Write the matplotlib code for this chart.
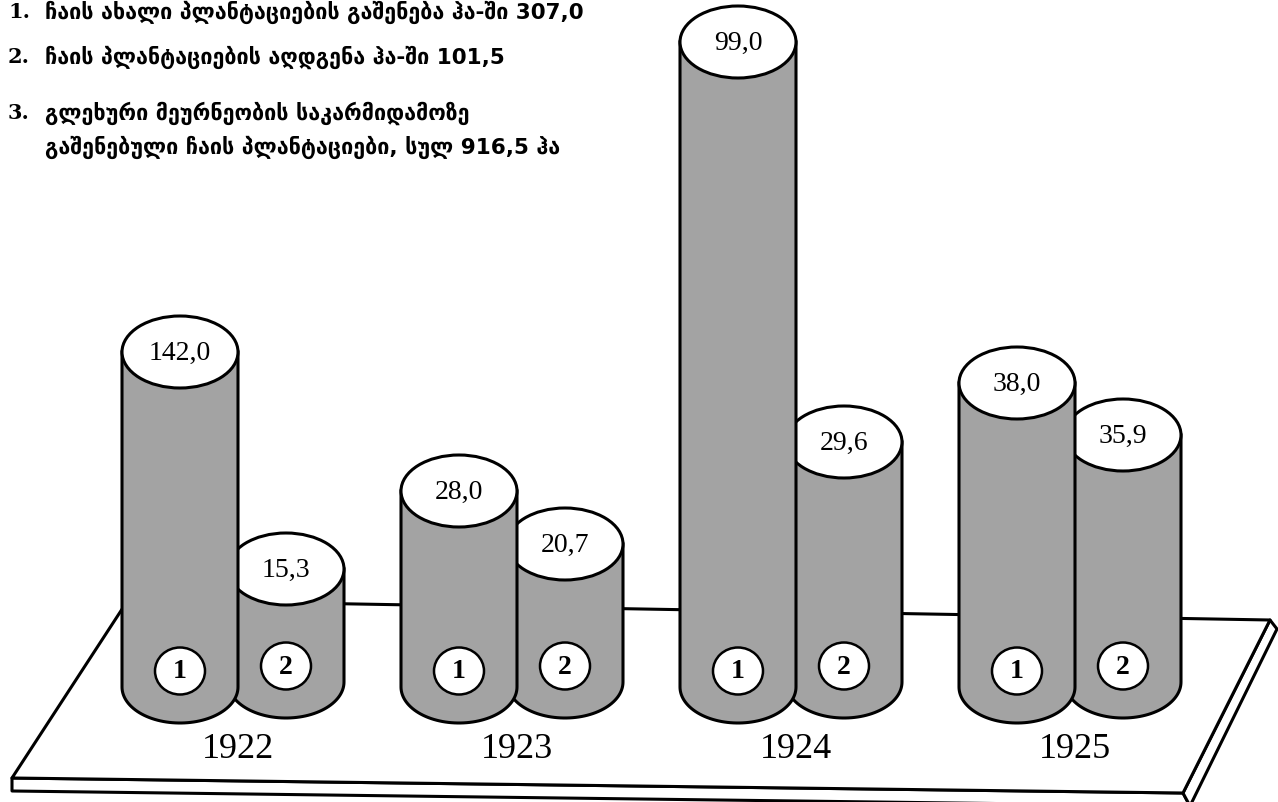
import numpy as np
import matplotlib.pyplot as plt
from matplotlib.patches import Ellipse, Polygon

# tea plantations by year (ha)
years = ['1922', '1923', '1924', '1925']
new_plant = [142.0, 28.0, 99.0, 38.0]      # series 1
restored = [15.3, 20.7, 29.6, 35.9]         # series 2
# column heights as drawn in the original picture (not to scale with the values)
new_drawn = [335, 196, 645, 304]
restored_drawn = [113, 138, 240, 247]

legend_nums = ['1.', '2.', '3.']
legend_lines = [
    ['ჩაის ახალი პლანტაციების გაშენება ჰა-ში 307,0'],
    ['ჩაის პლანტაციების აღდგენა ჰა-ში 101,5'],
    ['გლეხური მეურნეობის საკარმიდამოზე',
     'გაშენებული ჩაის პლანტაციები, სულ 916,5 ჰა'],
]

W, H = 1278, 802
grey = '#a3a3a3'
lw = 2.2
serif = 'Liberation Serif'

fig = plt.figure(figsize=(W / 100, H / 100), dpi=100)
ax = fig.add_axes([0, 0, 1, 1])
ax.set_xlim(0, W)
ax.set_ylim(H, 0)
ax.axis('off')

# platform (top face, front and right thickness)
top_face = [(12, 778), (128, 600), (1270, 620), (1183, 793)]
front_face = [(12, 778), (1183, 793), (1190, 806), (12, 791)]
side_face = [(1183, 793), (1270, 620), (1277, 629), (1190, 806)]
for pts in (front_face, side_face, top_face):
    ax.add_patch(Polygon(pts, closed=True, fc='white', ec='black', lw=lw,
                         joinstyle='round', zorder=1))

rw, rh = 58, 36          # cylinder half width / half height of ellipse
gx0, gstep, off = 233, 279, 53


def cylinder(cx, base, height, value, tag, z):
    top = base - height
    t = np.linspace(np.pi, 0, 60)
    xs = np.concatenate([[cx - rw], cx + rw * np.cos(t), [cx + rw]])
    ys = np.concatenate([[top], base + rh * np.sin(t), [top]])
    ax.add_patch(Polygon(np.column_stack([xs, ys]), closed=True, fc=grey,
                         ec='black', lw=lw, zorder=z))
    ax.add_patch(Ellipse((cx, top), 2 * rw, 2 * rh, fc='white', ec='black',
                         lw=lw, zorder=z + 0.1))
    ax.text(cx, top + 1, value, ha='center', va='center', fontsize=20,
            family=serif, zorder=z + 0.2)
    ax.add_patch(Ellipse((cx, base - 16), 50, 47, fc='white', ec='black',
                         lw=1.8, zorder=z + 0.1))
    ax.text(cx, base - 15, tag, ha='center', va='center', fontsize=20,
            family=serif, fontweight='bold', zorder=z + 0.2)


for i, yr in enumerate(years):
    g = gx0 + gstep * i
    # series 2 stands behind series 1
    cylinder(g + off, 682, restored_drawn[i],
             f'{restored[i]:.1f}'.replace('.', ','), '2', 10 + 2 * i)
    cylinder(g - off, 687, new_drawn[i],
             f'{new_plant[i]:.1f}'.replace('.', ','), '1', 11 + 2 * i)
    ax.text(g + 5, 750, yr, ha='center', va='center', fontsize=26,
            family=serif, zorder=5)

# legend text at the top left
ly = [12, 57, 113]
for num, lines, y in zip(legend_nums, legend_lines, ly):
    ax.text(8, y, num, ha='left', va='center', fontsize=15,
            fontweight='bold', family='DejaVu Serif')
    for k, line in enumerate(lines):
        ax.text(45, y + 34 * k, line, ha='left', va='center', fontsize=15.5,
                fontweight='bold', family='DejaVu Sans')

fig.savefig('out.png', dpi=100, facecolor='white')
